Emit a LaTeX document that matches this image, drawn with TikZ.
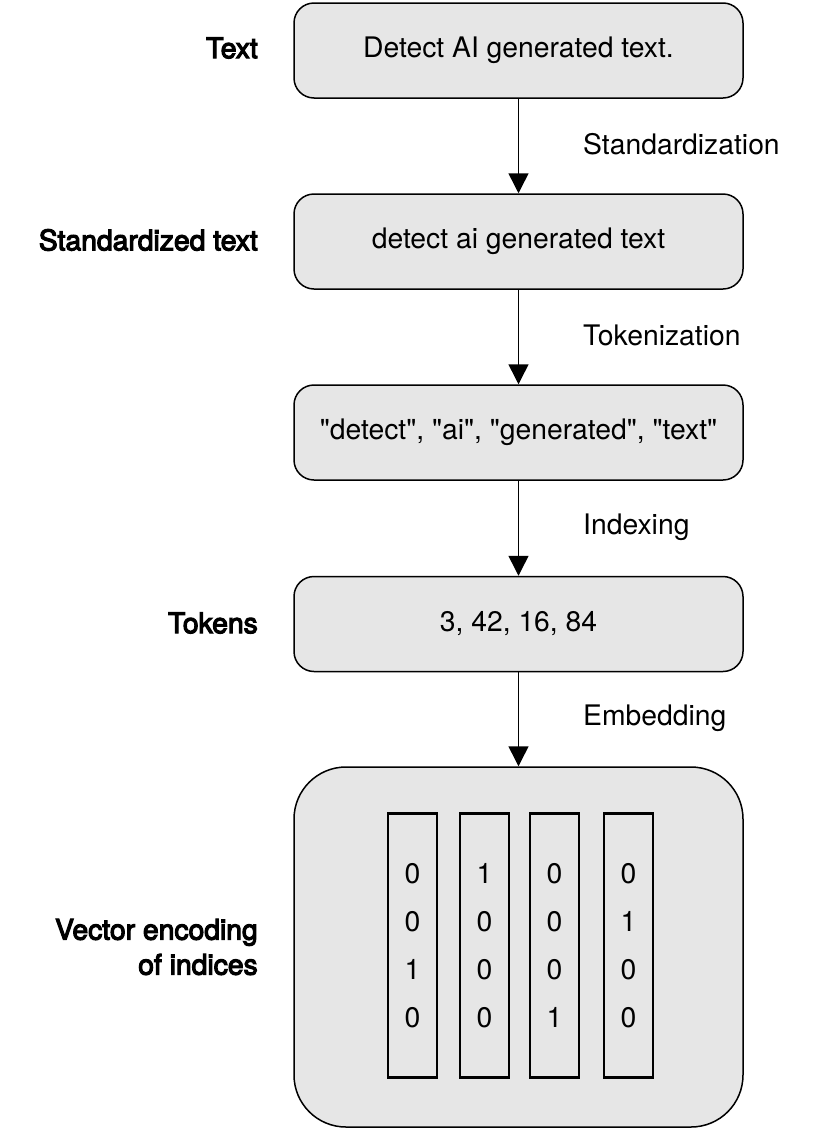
\documentclass[tikz,border=0pt]{standalone}
\usepackage{fontspec}
\newfontfamily\hv{TeX Gyre Heros}
\newfontfamily\lblfont{TeX Gyre Heros}[FakeBold=4]
\usetikzlibrary{arrows.meta}
\definecolor{boxgray}{HTML}{E6E6E6}
\tikzset{
  stagebox/.style={draw, line width=1.5pt, fill=boxgray, rounded corners=20pt,
    minimum width=449pt, minimum height=95pt, inner sep=0pt},
  vecbox/.style={draw, line width=2.5pt, fill=boxgray, minimum width=49pt,
    minimum height=264pt, inner sep=0pt, align=center,
    font=\hv\fontsize{28.3}{48}\selectfont},
  flow/.style={line width=1.5pt, -{Triangle[width=20pt,length=20pt]}},
  steplabel/.style={anchor=west, inner sep=0pt},
  sidelabel/.style={anchor=east, inner sep=0pt, align=right,
    font=\lblfont\fontsize{28.3}{35}\selectfont},
}
\begin{document}
\begin{tikzpicture}[x=1pt,y=-1pt,font=\hv\fontsize{28.3}{35}\selectfont]
\fill[white] (0,0) rectangle (821,1130);
\useasboundingbox (0,0) rectangle (821,1130);

\node[stagebox] (b1) at (518.5,50.5) {Detect AI generated text.};
\node[stagebox] (b2) at (518.5,241.5) {detect ai generated text};
\node[stagebox] (b3) at (518.5,432.5) {"detect", "ai", "generated", "text"};
\node[stagebox] (b4) at (518.5,624) {3, 42, 16, 84};
\node[stagebox, rounded corners=52pt, minimum height=360pt] (b5) at (518.5,947) {};

\node[vecbox] (v1) at (412.5,945.5) {0\\0\\1\\0};
\node[vecbox] (v2) at (484.5,945.5) {1\\0\\0\\0};
\node[vecbox] (v3) at (554.5,945.5) {0\\0\\0\\1};
\node[vecbox] (v4) at (628.5,945.5) {0\\1\\0\\0};

\draw[flow] (b1) -- (b2);
\draw[flow] (b2) -- (b3);
\draw[flow] (b3) -- (b4);
\draw[flow] (b4) -- (b5);

\node[steplabel] (s1) at (583,144) {Standardization};
\node[steplabel] (s2) at (583,335) {Tokenization};
\node[steplabel] (s3) at (583,527) {Indexing};
\node[steplabel] (s4) at (583,718) {Embedding};

\node[sidelabel] (l1) at (258,48) {Text};
\node[sidelabel] (l2) at (258,240) {Standardized text};
\node[sidelabel] (l3) at (258,623) {Tokens};
\node[sidelabel] (l4) at (258,947) {Vector encoding\\of indices};
\end{tikzpicture}
\end{document}
